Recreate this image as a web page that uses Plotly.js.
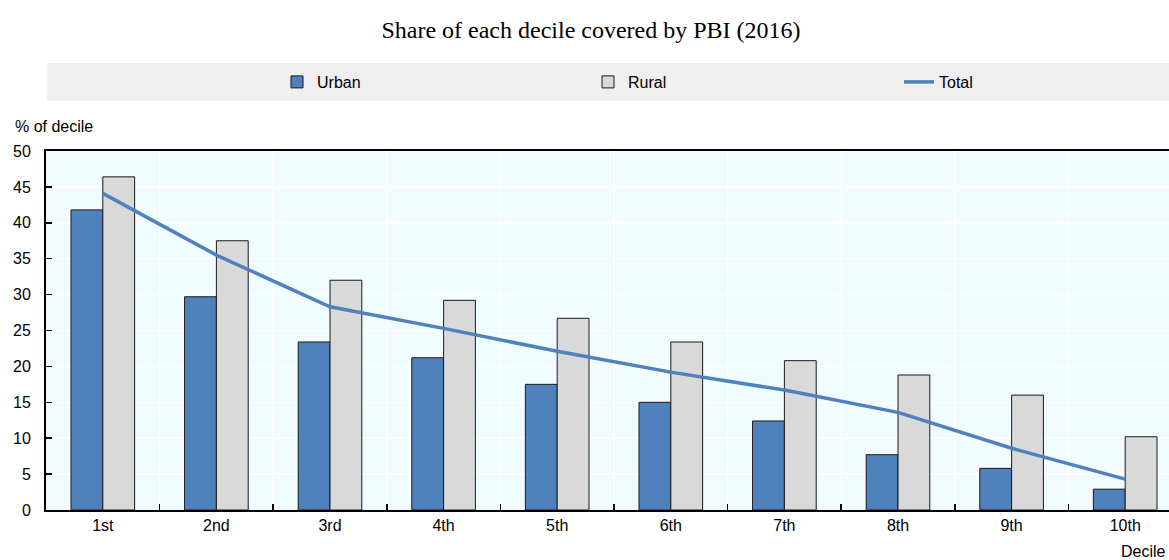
<!DOCTYPE html>
<html>
<head>
<meta charset="utf-8">
<script src="https://cdn.plot.ly/plotly-3.0.1.min.js"></script>
<style>
html,body{margin:0;padding:0;overflow:hidden;background:#fff;}
#chart{width:1300px;height:560px;}
</style>
</head>
<body>
<div id="chart"></div>
<script>
var deciles = ["1st","2nd","3rd","4th","5th","6th","7th","8th","9th","10th"];
var urban = [41.8, 29.7, 23.4, 21.2, 17.5, 15.0, 12.4, 7.7, 5.8, 2.9];
var rural = [46.4, 37.5, 32.0, 29.2, 26.7, 23.4, 20.8, 18.8, 16.0, 10.2];
var total = [44.1, 35.5, 28.3, 25.3, 22.1, 19.2, 16.7, 13.6, 8.6, 4.3];

var FONT = "'Liberation Sans', Arial, sans-serif";
var FS = 16;

var traces = [
  {type:'bar', name:'Urban', x:deciles, y:urban,
   marker:{color:'#4f81bd', line:{color:'#1a1a1a', width:1}}},
  {type:'bar', name:'Rural', x:deciles, y:rural,
   marker:{color:'#d9d9d9', line:{color:'#1a1a1a', width:1}}},
  {type:'scatter', mode:'lines', name:'Total', x:deciles, y:total,
   line:{color:'#4f81bd', width:3.5}}
];

var layout = {
  width:1300, height:560,
  margin:{l:46, r:118, t:151, b:50},
  paper_bgcolor:'#ffffff',
  plot_bgcolor:'#f0fcff',
  font:{family:FONT, size:FS, color:'#000'},
  title:{text:'Share of each decile covered by PBI (2016)', x:591/1300, xref:'container', xanchor:'center',
         y:1-30/560, yref:'container', yanchor:'middle',
         font:{family:"'Liberation Serif','Times New Roman',serif", size:24, color:'#000'}},
  barmode:'group', bargap:0.44, bargroupgap:0,
  showlegend:true,
  legend:{orientation:'h', x:0.614, xanchor:'center', y:1+(151-82)/359, yanchor:'middle',
          bgcolor:'rgba(0,0,0,0)', entrywidth:266, entrywidthmode:'pixels',
          font:{family:FONT, size:FS}, traceorder:'normal'},
  xaxis:{type:'category', range:[-0.5, 9.5], tickson:'boundaries', ticks:'inside', ticklen:6,
         tickcolor:'#000', tickwidth:1.5,
         showline:true, linecolor:'#000', linewidth:2, mirror:true,
         showgrid:true, gridcolor:'#ffffff', gridwidth:1.5,
         tickfont:{family:FONT, size:FS}, fixedrange:true},
  yaxis:{range:[0,50], dtick:5, ticks:'inside', ticklen:6, tickcolor:'#000', tickwidth:1.5,
         ticklabelstandoff:10,
         showline:true, linecolor:'#000', linewidth:2,
         showgrid:true, gridcolor:'#ffffff', gridwidth:1.5, zeroline:false,
         tickfont:{family:FONT, size:FS}, fixedrange:true},
  shapes:[
    {type:'rect', xref:'paper', yref:'paper', x0:(47-46)/1136, x1:1.1, y0:1+(151-101)/359, y1:1+(151-63)/359,
     fillcolor:'#efefef', line:{width:0}, layer:'below'}
  ],
  annotations:[
    {text:'% of decile', xref:'paper', yref:'paper', x:(13-46)/1136, xanchor:'left',
     y:1+(151-127)/359, yanchor:'middle', showarrow:false, font:{family:FONT, size:FS}},
    {text:'Decile', xref:'paper', yref:'paper', x:(1168-46)/1136, xanchor:'right',
     y:-(551-510)/359, yanchor:'middle', showarrow:false, font:{family:FONT, size:FS}}
  ]
};

Plotly.newPlot('chart', traces, layout, {displayModeBar:false, staticPlot:true});
</script>
</body>
</html>
